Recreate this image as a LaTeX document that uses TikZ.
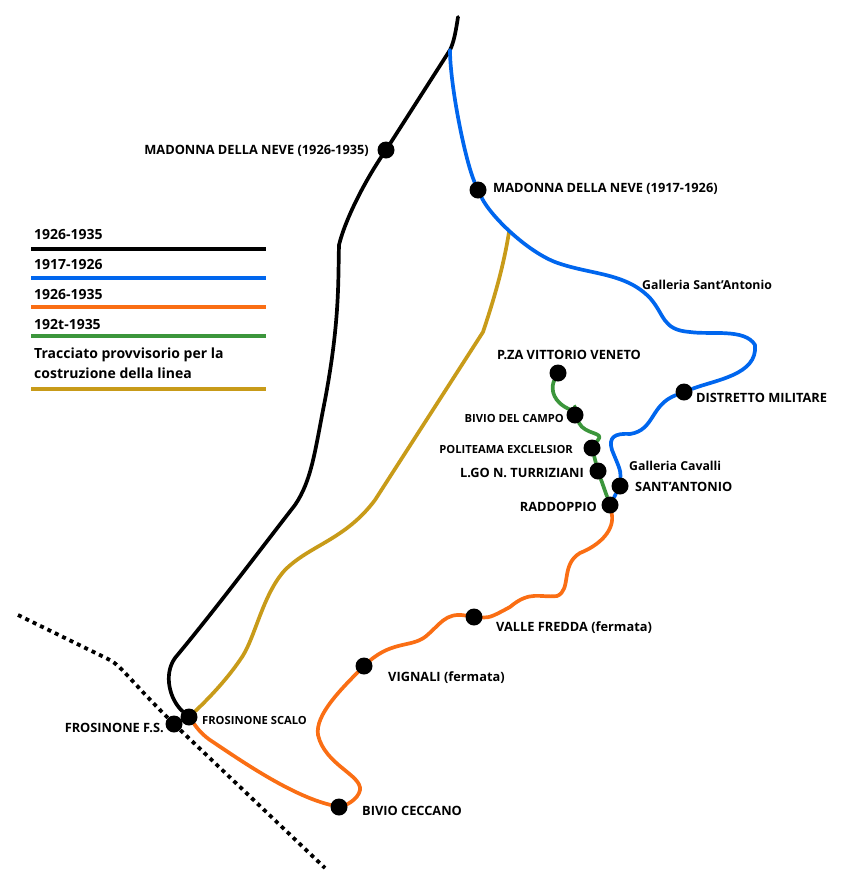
\documentclass[tikz,border=0pt]{standalone}
\usepackage{fontspec}
\setmainfont{Open Sans}
\usetikzlibrary{backgrounds}
\definecolor{lblue}{RGB}{0,102,238}
\definecolor{lorange}{RGB}{250,110,20}
\definecolor{lgreen}{RGB}{60,150,60}
\definecolor{lgold}{RGB}{200,155,25}
\tikzset{
 line/.style={line width=3.7pt,line cap=round,line join=round},
 station/.style={circle,fill=black,minimum size=17pt,inner sep=0pt},
 lab/.style={inner sep=0pt,font=\fontsize{12.8}{14}\selectfont\bfseries,text=black},
 leg/.style={inner sep=0pt,anchor=west,font=\fontsize{14}{19.5}\selectfont\bfseries,text=black,align=left},
 smalllab/.style={lab,font=\fontsize{11.2}{13}\selectfont\bfseries},
 gallab/.style={lab,font=\fontsize{12.3}{14}\selectfont\bfseries},
}
\begin{document}
\begin{tikzpicture}[x=1pt,y=-1pt]
\useasboundingbox (0,0) rectangle (842,879);
% stations
\node[station] (mn2) at (386,150) {};
\node[station] (mn1) at (478,190) {};
\node[station] (pza) at (558,373) {};
\node[station] (bivio) at (575,415) {};
\node[station] (polit) at (592,448) {};
\node[station] (lgo) at (598,471) {};
\node[station] (santa) at (620,486) {};
\node[station] (radd) at (610,505) {};
\node[station] (distr) at (684,392) {};
\node[station] (valle) at (474,617) {};
\node[station] (vign) at (364,666) {};
\node[station] (fscalo) at (189,717) {};
\node[station] (ffs) at (174,724) {};
\node[station] (cecc) at (339,807) {};
\coordinate (top) at (458,17);
\coordinate (split) at (450,50);
\coordinate (goldtop) at (509,232);
\coordinate (dotA) at (18,615);
\coordinate (dotB) at (325,868);
% lines
\begin{scope}[on background layer]
\draw[line,black,dash pattern=on 4pt off 4.2pt,line cap=butt,line width=3.8pt] (dotA) -- (110,660) .. controls (122,667) and (130,680) .. (ffs) -- (dotB);
\draw[line,lgold] (goldtop) .. controls (503,270) and (492,305) .. (483,332) -- (375,500) .. controls (345,540) and (310,545) .. (285,570) .. controls (262,595) and (255,640) .. (240,660) .. controls (225,682) and (205,702) .. (fscalo);
\draw[line,black] (top) .. controls (456,30) and (454,42) .. (split) -- (386,150) .. controls (365,180) and (345,220) .. (339,245) .. controls (338,280) and (340,320) .. (325,400) .. controls (315,450) and (312,480) .. (295,505) .. controls (260,550) and (215,610) .. (175,658) .. controls (163,675) and (170,700) .. (fscalo);
\draw[line,lblue] (split) .. controls (450,85) and (465,160) .. (mn1) .. controls (490,215) and (525,250) .. (555,262) .. controls (590,275) and (625,272) .. (650,298) .. controls (665,315) and (662,330) .. (690,332) .. controls (710,335) and (745,328) .. (755,345) .. controls (758,375) and (715,380) .. (distr) .. controls (650,405) and (655,430) .. (630,434) .. controls (615,433) and (608,437) .. (612,450) .. controls (618,465) and (621,470) .. (santa) -- (radd);
\draw[line,lorange] (radd) .. controls (615,530) and (600,545) .. (580,553) .. controls (560,565) and (572,590) .. (557,596) .. controls (540,598) and (530,590) .. (510,607) .. controls (495,615) and (490,618) .. (valle) .. controls (445,612) and (440,625) .. (425,637) .. controls (410,648) and (390,640) .. (364,666) .. controls (340,690) and (315,715) .. (318,735) .. controls (325,765) and (362,775) .. (360,790) .. controls (358,800) and (345,805) .. (cecc) .. controls (290,795) and (240,760) .. (210,740) .. controls (200,733) and (195,725) .. (fscalo);
\draw[line,lgreen] (pza) .. controls (552,385) and (550,398) .. (565,407) .. controls (570,410) and (575,412) .. (bivio) .. controls (585,435) and (605,432) .. (598,440) -- (polit) -- (lgo) -- (radd);
\end{scope}
% labels
\node[lab,anchor=east] (t1) at (369,151) {MADONNA DELLA NEVE (1926-1935)};
\node[lab,anchor=west] (t2) at (493,189) {MADONNA DELLA NEVE (1917-1926)};
\node[gallab,anchor=west] (t3) at (642,285) {Galleria Sant’Antonio};
\node[lab,anchor=center] (t4) at (569,355) {P.ZA VITTORIO VENETO};
\node[lab,anchor=west] (t5) at (696,398) {DISTRETTO MILITARE};
\node[smalllab,anchor=east] (t6) at (564,418) {BIVIO DEL CAMPO};
\node[smalllab,anchor=east] (t7) at (573,449) {POLITEAMA EXCLELSIOR};
\node[lab,anchor=east] (t8) at (584,473) {L.GO N. TURRIZIANI};
\node[gallab,anchor=west] (t9) at (629,466) {Galleria Cavalli};
\node[lab,anchor=west] (t10) at (635,487) {SANT’ANTONIO};
\node[lab,anchor=east] (t11) at (597,507) {RADDOPPIO};
\node[lab,anchor=west] (t12) at (496,628) {VALLE FREDDA (fermata)};
\node[lab,anchor=west] (t13) at (388,678) {VIGNALI (fermata)};
\node[smalllab,anchor=west] (t14) at (202,720) {FROSINONE SCALO};
\node[lab,anchor=east] (t15) at (164,728) {FROSINONE F.S.};
\node[lab,anchor=west] (t16) at (362,811) {BIVIO CECCANO};
% legend
\node[leg] (l1) at (34,234) {1926-1935};
\node[leg] (l2) at (34,264) {1917-1926};
\node[leg] (l3) at (34,294) {1926-1935};
\node[leg] (l4) at (34,324) {192t-1935};
\node[leg] (l5) at (34,363) {Tracciato provvisorio per la\\costruzione della linea};
\coordinate (a1) at (31,249); \coordinate (b1) at (266,249);
\coordinate (a2) at (31,278); \coordinate (b2) at (266,278);
\coordinate (a3) at (31,307); \coordinate (b3) at (266,307);
\coordinate (a4) at (31,336); \coordinate (b4) at (266,336);
\coordinate (a5) at (31,389); \coordinate (b5) at (266,389);
\draw[line,line cap=butt,black] (a1) -- (b1);
\draw[line,line cap=butt,lblue] (a2) -- (b2);
\draw[line,line cap=butt,lorange] (a3) -- (b3);
\draw[line,line cap=butt,lgreen] (a4) -- (b4);
\draw[line,line cap=butt,lgold] (a5) -- (b5);
\end{tikzpicture}
\end{document}
